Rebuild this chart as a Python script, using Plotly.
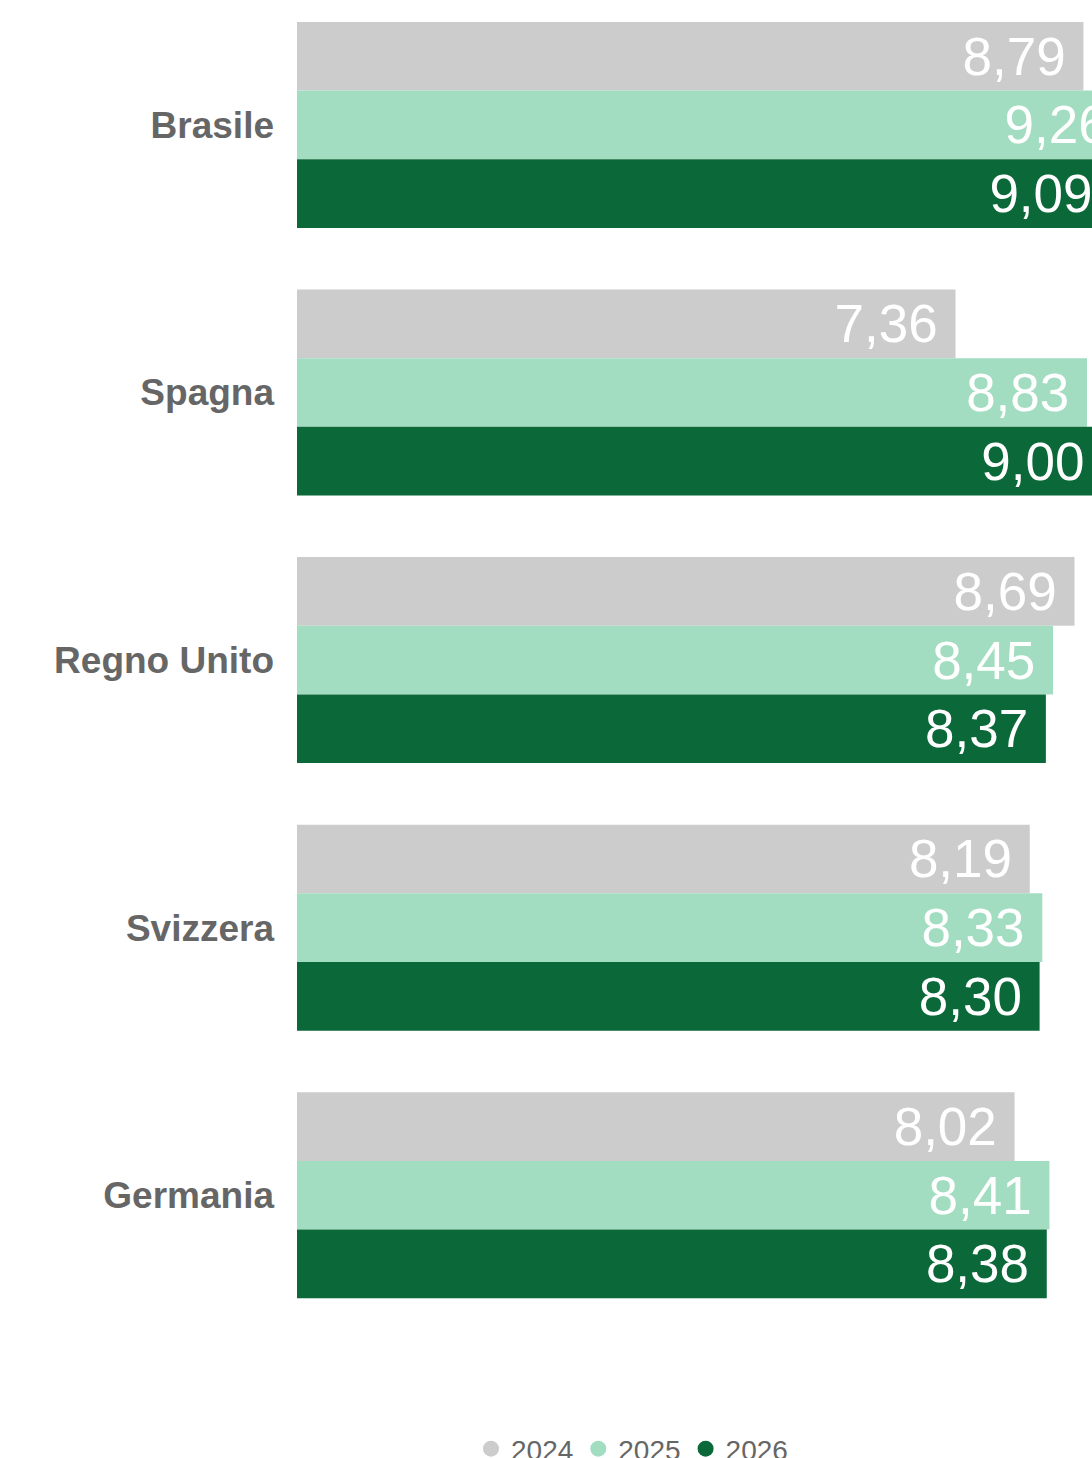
import plotly.graph_objects as go

countries = ["Brasile", "Spagna", "Regno Unito", "Svizzera", "Germania"]
years = ["2024", "2025", "2026"]
v2024 = [8.79, 7.36, 8.69, 8.19, 8.02]
v2025 = [9.26, 8.83, 8.45, 8.33, 8.41]
v2026 = [9.09, 9.00, 8.37, 8.30, 8.38]
colors = ["#cccccc", "#a3ddc1", "#0b6838"]

W = 1200  # plot area runs past the visible window, like the cropped original
H = 1458
PX_PER_UNIT = 89.47
L = 297

fig = go.Figure()
for yr, vals, col in zip(years, [v2024, v2025, v2026], colors):
    fig.add_trace(go.Bar(
        y=countries, x=vals, orientation="h", name=yr,
        marker=dict(color=col, line=dict(width=0)),
        texttemplate="%{x:.2f}\u00a0", textposition="inside",
        insidetextanchor="end", constraintext="none",
        textfont=dict(family="Liberation Sans", size=53, color="#ffffff"),
        showlegend=False, hoverinfo="skip",
    ))
    fig.add_trace(go.Scatter(
        x=[None], y=[None], mode="markers", name=yr,
        marker=dict(color=col, size=26, symbol="circle"),
        showlegend=True,
    ))

fig.update_layout(
    width=W, height=H,
    margin=dict(l=L, r=0, t=0, b=129),
    barmode="group", bargap=0.23, bargroupgap=0,
    separators=",.",
    plot_bgcolor="white", paper_bgcolor="white",
    legend=dict(orientation="h", xref="container", x=632 / W, xanchor="center",
                yref="container", y=34 / H, yanchor="top",
                font=dict(family="Liberation Sans", size=28, color="#666666"),
                itemwidth=30, tracegroupgap=0),
)
fig.update_xaxes(range=[0, (W - L) / PX_PER_UNIT], visible=False, showgrid=False, zeroline=False)
fig.update_yaxes(categoryorder="array", categoryarray=countries,
                 range=[4.5, -0.467], showgrid=False, zeroline=False, ticks="",
                 ticklabelstandoff=22,
                 tickfont=dict(family="Liberation Sans", size=37, color="#666666", weight="bold"))

fig.write_html("out.html",
               config={"displayModeBar": False},
               post_script="document.body.style.margin='0';"
                           "document.documentElement.style.overflow='hidden';"
                           "document.body.style.overflow='hidden';")
